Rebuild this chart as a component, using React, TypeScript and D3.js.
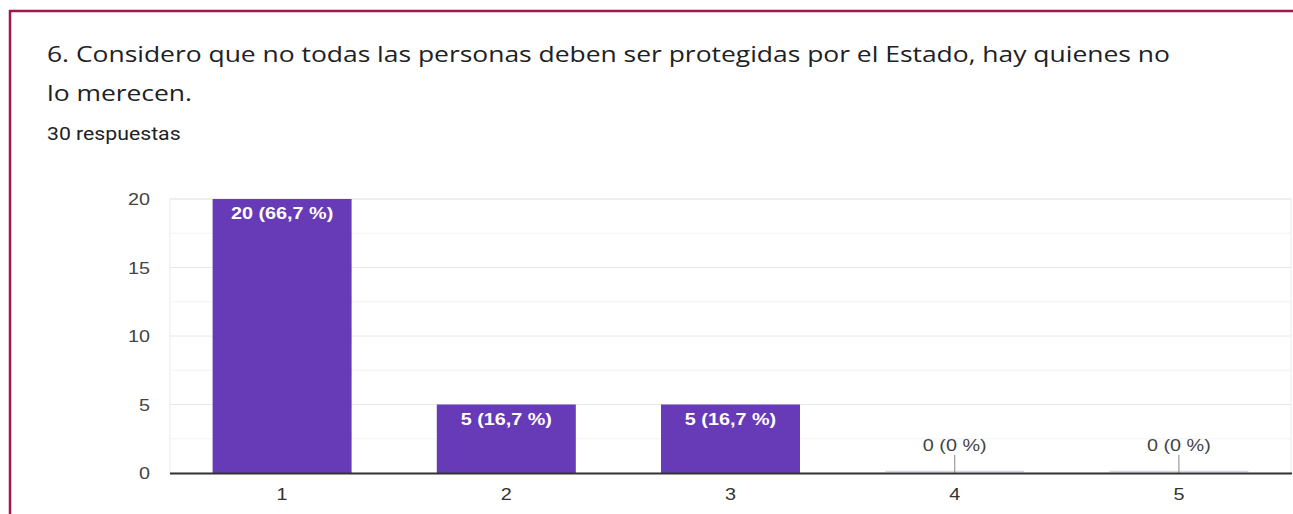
import { useEffect, useRef } from "react";
import * as d3 from "d3";

const TITLE_LINES = [
  "6. Considero que no todas las personas deben ser protegidas por el Estado, hay quienes no",
  "lo merecen.",
];
const SUBTITLE = "30 respuestas";
const CATEGORIES = ["1", "2", "3", "4", "5"];
const COUNTS = [20, 5, 5, 0, 0];
const LABELS = ["20 (66,7 %)", "5 (16,7 %)", "5 (16,7 %)", "0 (0 %)", "0 (0 %)"];
const Y_TICKS = [0, 5, 10, 15, 20];
const Y_MINOR = [2.5, 7.5, 12.5, 17.5];

const PURPLE = "#673ab7";
const FRAME = "#a3164b";
const ARIAL = "Arial, 'Liberation Sans', sans-serif";
// the screenshot is stretched sideways a little, so text is widened to match
const SX = 1.2;

export default function App() {
  const ref = useRef<SVGSVGElement>(null);

  useEffect(() => {
    if (!ref.current) return;
    const width = 1293;
    const height = 514;
    const margin = { top: 199, right: 2, bottom: 41, left: 170 };

    const svg = d3.select(ref.current);
    svg.selectAll("*").remove();
    svg.attr("width", width).attr("height", height);

    const at = (x: number, y: number, s = SX) => `translate(${x},${y}) scale(${s},1)`;

    // card frame
    svg
      .append("path")
      .attr("d", `M10,${height} L10,11 L${width},11`)
      .attr("fill", "none")
      .attr("stroke", FRAME)
      .attr("stroke-width", 2.5);

    // title
    svg
      .append("g")
      .selectAll("text")
      .data(TITLE_LINES)
      .join("text")
      .attr("transform", (_, i) => at(47, 62 + i * 39, 1.23))
      .attr("fill", "#202124")
      .attr("font-family", "'Open Sans', sans-serif")
      .attr("font-size", 21.5)
      .text((d) => d);

    svg
      .append("text")
      .attr("transform", at(47, 140, 1.18))
      .attr("fill", "#202124")
      .attr("font-family", "Roboto, sans-serif")
      .attr("font-size", 18)
      .text(SUBTITLE);

    const x = d3
      .scaleBand()
      .domain(CATEGORIES)
      .range([margin.left, width - margin.right])
      .paddingInner(0.38)
      .paddingOuter(0.19);

    const y = d3
      .scaleLinear()
      .domain([0, 20])
      .range([height - margin.bottom, margin.top]);

    // plot frame
    svg
      .append("rect")
      .attr("x", margin.left)
      .attr("y", margin.top)
      .attr("width", width - margin.right - margin.left)
      .attr("height", y(0) - margin.top)
      .attr("fill", "none")
      .attr("stroke", "#ececec");

    // gridlines
    svg
      .append("g")
      .attr("stroke", "#f3f3f3")
      .selectAll("line")
      .data(Y_MINOR)
      .join("line")
      .attr("x1", margin.left)
      .attr("x2", width - margin.right)
      .attr("y1", (d) => y(d))
      .attr("y2", (d) => y(d));

    svg
      .append("g")
      .attr("stroke", "#e8e8e8")
      .selectAll("line")
      .data(Y_TICKS.filter((d) => d > 0))
      .join("line")
      .attr("x1", margin.left)
      .attr("x2", width - margin.right)
      .attr("y1", (d) => y(d))
      .attr("y2", (d) => y(d));

    // y labels
    svg
      .append("g")
      .selectAll("text")
      .data(Y_TICKS)
      .join("text")
      .attr("transform", (d) => at(150, y(d) + 6))
      .attr("text-anchor", "end")
      .attr("fill", "#444")
      .attr("font-family", ARIAL)
      .attr("font-size", 16.5)
      .text((d) => d);

    // bars
    const data = CATEGORIES.map((c, i) => ({ c, v: COUNTS[i], label: LABELS[i] }));
    const mid = (c: string) => (x(c) ?? 0) + x.bandwidth() / 2;

    svg
      .append("g")
      .selectAll("rect")
      .data(data.filter((d) => d.v > 0))
      .join("rect")
      .attr("x", (d) => x(d.c) ?? 0)
      .attr("width", x.bandwidth())
      .attr("y", (d) => y(d.v))
      .attr("height", (d) => y(0) - y(d.v))
      .attr("fill", PURPLE);

    // zero bars: faint baseline stub plus a leader tick
    svg
      .append("g")
      .selectAll("line")
      .data(data.filter((d) => d.v === 0))
      .join("line")
      .attr("x1", (d) => x(d.c) ?? 0)
      .attr("x2", (d) => (x(d.c) ?? 0) + x.bandwidth())
      .attr("y1", y(0) - 1.5)
      .attr("y2", y(0) - 1.5)
      .attr("stroke", "#d9d6e6")
      .attr("stroke-width", 1.5);

    svg
      .append("g")
      .selectAll("line")
      .data(data.filter((d) => d.v === 0))
      .join("line")
      .attr("x1", (d) => mid(d.c))
      .attr("x2", (d) => mid(d.c))
      .attr("y1", y(0) - 18)
      .attr("y2", y(0))
      .attr("stroke", "#999")
      .attr("stroke-width", 1.2);

    // value labels
    svg
      .append("g")
      .selectAll("text")
      .data(data)
      .join("text")
      .attr("transform", (d) => at(mid(d.c), d.v > 0 ? y(d.v) + 20 : y(0) - 22))
      .attr("text-anchor", "middle")
      .attr("fill", (d) => (d.v > 0 ? "#ffffff" : "#444"))
      .attr("font-weight", (d) => (d.v > 0 ? "bold" : "normal"))
      .attr("font-family", ARIAL)
      .attr("font-size", 16.5)
      .text((d) => d.label);

    // x axis
    svg
      .append("line")
      .attr("x1", margin.left)
      .attr("x2", width - 1)
      .attr("y1", y(0) + 0.5)
      .attr("y2", y(0) + 0.5)
      .attr("stroke", "#333")
      .attr("stroke-width", 2);

    svg
      .append("g")
      .selectAll("text")
      .data(CATEGORIES)
      .join("text")
      .attr("transform", (d) => at(mid(d), 500))
      .attr("text-anchor", "middle")
      .attr("fill", "#333")
      .attr("font-family", ARIAL)
      .attr("font-size", 16.5)
      .text((d) => d);
  }, []);

  return (
    <div style={{ position: "fixed", left: 0, top: 0, background: "#fff" }}>
      <svg ref={ref} style={{ display: "block" }} />
    </div>
  );
}
